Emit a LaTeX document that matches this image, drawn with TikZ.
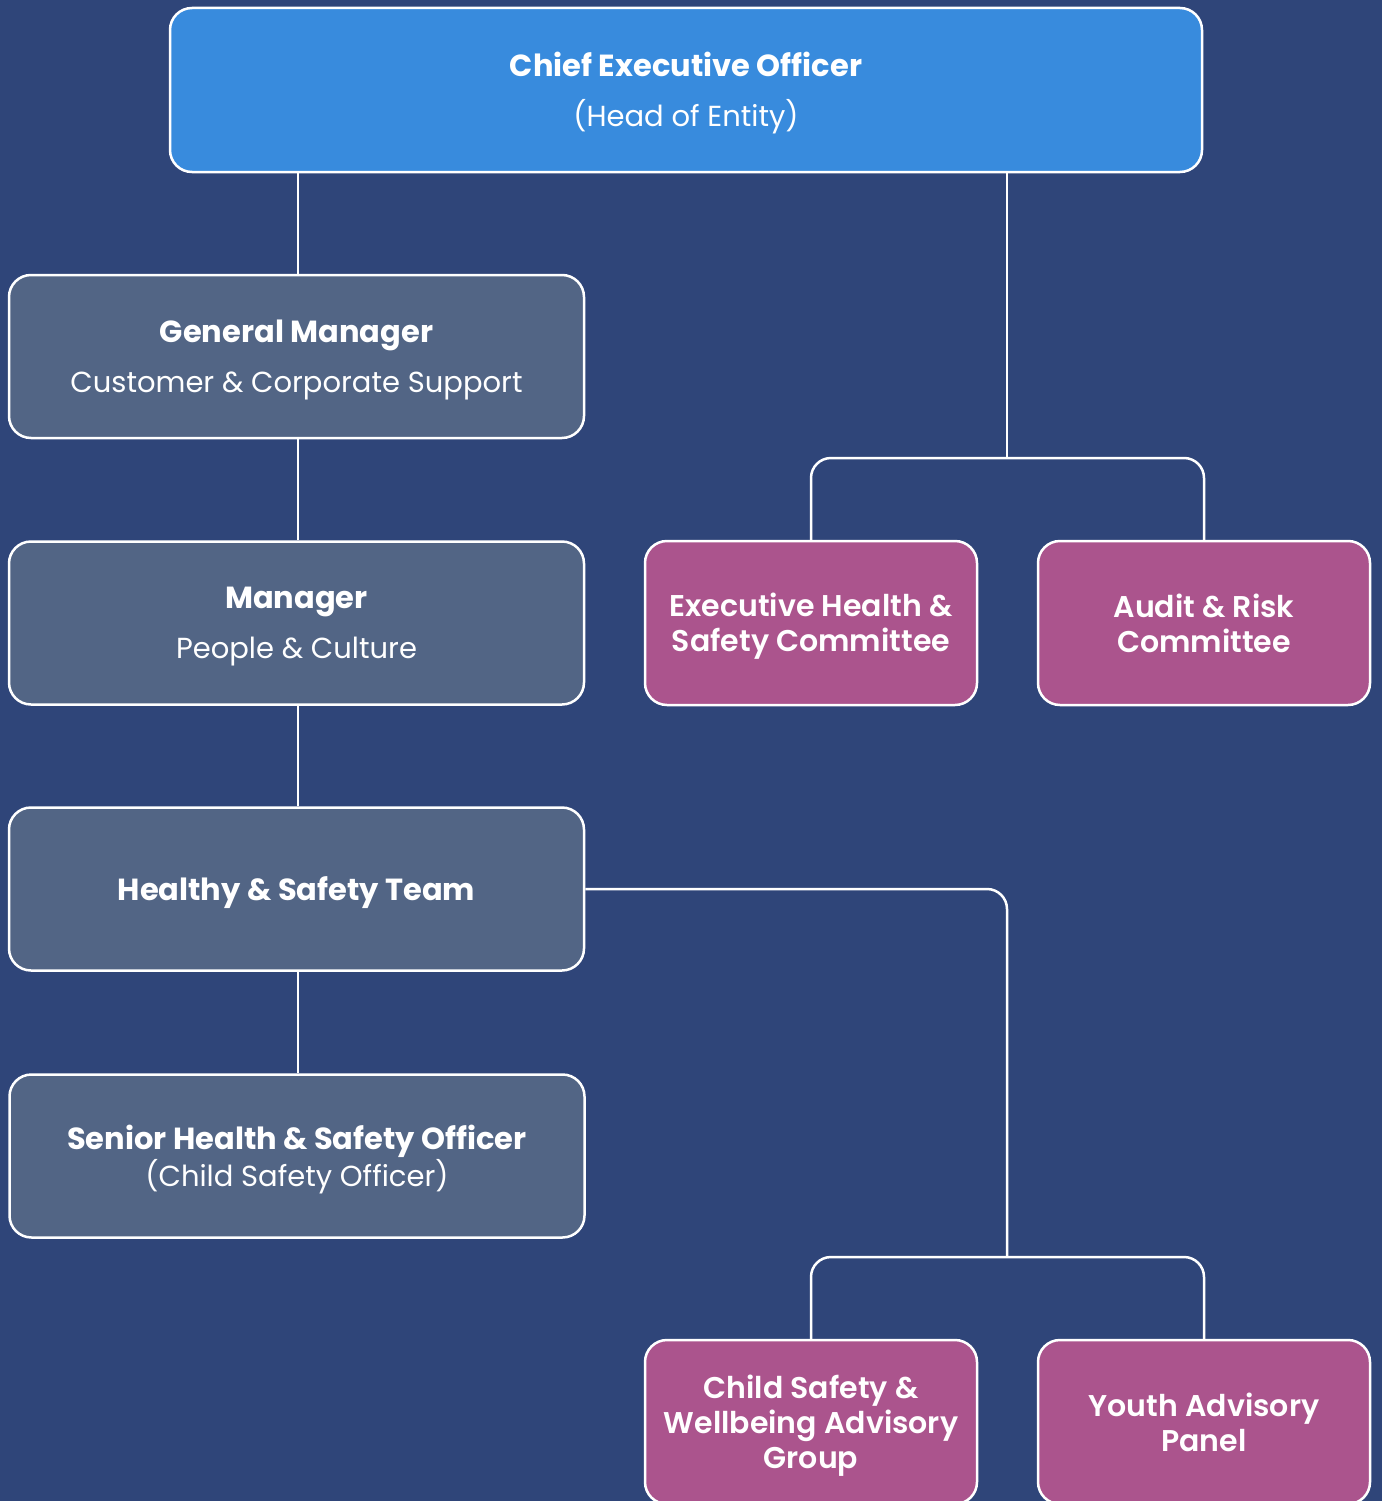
\documentclass[tikz,border=0pt]{standalone}
\usepackage{fontspec}
\setmainfont{Poppins}
\newfontfamily\semib{Poppins SemiBold}
\definecolor{bgcol}{HTML}{2F4579}
\definecolor{ceocol}{HTML}{388BDD}
\definecolor{graycol}{HTML}{526585}
\definecolor{magcol}{HTML}{AB548D}
\newcommand{\hd}[1]{{\bfseries\fontsize{30.5}{35}\selectfont #1}}
\begin{document}
\begin{tikzpicture}[x=1pt,y=-1pt,
  box/.style={draw=white, line width=2.5pt, rounded corners=22pt, inner sep=0pt},
  lbl/.style={inner sep=0pt, align=center, text=white, yshift=-3.5pt, font={\fontsize{29}{35}\selectfont}},
  mlbl/.style={lbl, font={\semib\fontsize{30}{35}\selectfont}},
  ceobox/.style={box, fill=ceocol, minimum width=1032pt, minimum height=164pt},
  graybox/.style={box, fill=graycol, minimum width=575pt, minimum height=163pt},
  magbox/.style={box, fill=magcol, minimum width=332pt, minimum height=164pt},
  conn/.style={draw=white, line width=2.5pt, rounded corners=20pt}
]
\fill[bgcol] (0,0) rectangle (1382,1501);
\useasboundingbox (0,0) rectangle (1382,1501);

\node[ceobox, label={[lbl]center:{\hd{Chief Executive Officer}\\[15pt](Head of Entity)}}] (ceo) at (686,90) {};
\node[graybox, label={[lbl]center:{\hd{General Manager}\\[15pt]Customer \& Corporate Support}}] (gm) at (296.5,356.5) {};
\node[graybox, label={[lbl]center:{\hd{Manager}\\[15pt]People \& Culture}}] (mgr) at (296.5,623) {};
\node[graybox, label={[lbl]center:{\hd{Healthy \& Safety Team}}}] (hst) at (296.5,889) {};
\node[graybox, label={[lbl]center:{\hd{Senior Health \& Safety Officer}\\(Child Safety Officer)}}] (sho) at (297,1156) {};

\node[magbox, label={[mlbl]center:{Executive Health \&\\Safety Committee}}] (ehs) at (811,623) {};
\node[magbox, label={[mlbl, yshift=3pt]center:{Audit \& Risk\\Committee}}] (ar) at (1204,623) {};
\node[magbox, label={[mlbl]center:{Child Safety \&\\Wellbeing Advisory\\Group}}] (cs) at (811,1422) {};
\node[magbox, label={[mlbl, yshift=3pt]center:{Youth Advisory\\Panel}}] (ya) at (1204,1422) {};

\coordinate (j1) at (1007,458);
\coordinate (j2) at (1007,1257);

\draw[conn] ([xshift=1.5pt]gm.north) -- ([xshift=1.5pt]gm.north |- ceo.south);
\draw[conn] ([xshift=1.5pt]mgr.north) -- ([xshift=1.5pt]mgr.north |- gm.south);
\draw[conn] ([xshift=1.5pt]hst.north) -- ([xshift=1.5pt]hst.north |- mgr.south);
\draw[conn] ([xshift=1.5pt]hst.south |- sho.north) -- ([xshift=1.5pt]hst.south);

\draw[conn] (ceo.south -| j1) -- (j1);
\draw[conn] (ehs.north) -- (ehs.north |- j1) -- (ar.north |- j1) -- (ar.north);

\draw[conn] (hst.east) -| (j2);
\draw[conn] (cs.north) -- (cs.north |- j2) -- (ya.north |- j2) -- (ya.north);
\end{tikzpicture}
\end{document}
